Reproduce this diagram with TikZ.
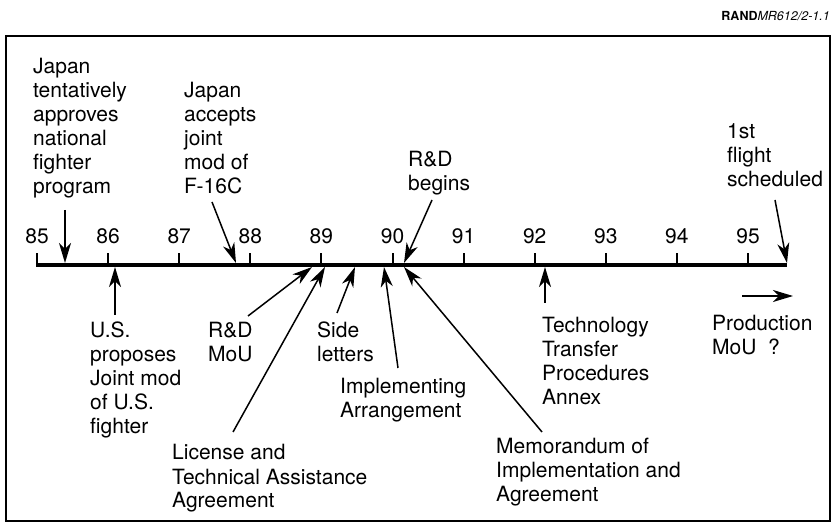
\documentclass[tikz,border=0pt]{standalone}
\usepackage{fontspec}
\setmainfont{TeX Gyre Heros}
\usetikzlibrary{arrows.meta}

\begin{document}
\begin{tikzpicture}[x=1pt,y=1pt,>={Stealth[length=20pt,width=12pt,inset=6pt]},
  evt/.style={->,line width=1.5pt},
  lbl/.style={anchor=base west,align=left,inner sep=0pt,font=\fontsize{21}{24}\selectfont},
  yr/.style={anchor=base,inner sep=0pt,font=\fontsize{21}{24}\selectfont}]
  \useasboundingbox (0,0) rectangle (832,527);
  \draw[line width=2.5pt] (6,6) rectangle (830,491);
  \node[anchor=base east,inner sep=0pt,font=\fontsize{12.5}{14}\selectfont] (fig) at (830,506) {\textbf{RAND}\textit{MR612/2-1.1}};
  % time axis
  \coordinate (a0) at (36,262); \coordinate (a1) at (787,262);
  \draw[line width=4pt] (a0)--(a1);
  \foreach \k in {0,...,10}{
    \pgfmathtruncatemacro{\yy}{85+\k}
    \draw[line width=2pt] (37+71.1*\k,262)--++(0,12);
    \node[yr] (y\yy) at (37+71.1*\k,283) {\yy};
  }
  % events above the axis (nodes placed by their last line)
  \node[lbl] (tent) at (33,333) {Japan\\tentatively\\approves\\national\\fighter\\program};
  \node[lbl] (acc) at (184,333) {Japan\\accepts\\joint\\mod of\\F-16C};
  \node[lbl] (rdb) at (408,336) {R\&D\\begins};
  \node[lbl] (flt) at (727,340) {1st\\flight\\scheduled};
  \coordinate (tent0) at (65,317); \coordinate (tent1) at (65,264);
  \coordinate (acc0) at (212,325); \coordinate (acc1) at (236,264);
  \coordinate (rdb0) at (432,327); \coordinate (rdb1) at (404,264);
  \coordinate (flt0) at (775,327); \coordinate (flt1) at (787,264);
  \draw[evt] (tent0)--(tent1); \draw[evt] (acc0)--(acc1);
  \draw[evt] (rdb0)--(rdb1); \draw[evt] (flt0)--(flt1);
  % events below the axis
  \node[lbl] (usp) at (90,93) {U.S.\\proposes\\Joint mod\\of U.S.\\fighter};
  \node[lbl] (rdm) at (208,165) {R\&D\\MoU};
  \node[lbl] (lic) at (172,19) {License and\\Technical Assistance\\Agreement};
  \node[lbl] (side) at (317,165) {Side\\letters};
  \node[lbl] (impl) at (340,109) {Implementing\\Arrangement};
  \node[lbl] (memo) at (496,25) {Memorandum of\\Implementation and\\Agreement};
  \node[lbl] (tech) at (542,122) {Technology\\Transfer\\Procedures\\Annex};
  \node[lbl] (prod) at (712,172) {Production\\MoU\ \ ?};
  \coordinate (usp0) at (115,212); \coordinate (usp1) at (115,260);
  \coordinate (rdm0) at (248,211); \coordinate (rdm1) at (312,260);
  \coordinate (lic0) at (233,95); \coordinate (lic1) at (325,260);
  \coordinate (side0) at (337,214); \coordinate (side1) at (355,260);
  \coordinate (impl0) at (398,159); \coordinate (impl1) at (384,260);
  \coordinate (memo0) at (542,95); \coordinate (memo1) at (404,260);
  \coordinate (tech0) at (545,224); \coordinate (tech1) at (545,260);
  \coordinate (prod0) at (742,231); \coordinate (prod1) at (793,231);
  \draw[evt] (usp0)--(usp1); \draw[evt] (rdm0)--(rdm1); \draw[evt] (lic0)--(lic1);
  \draw[evt] (side0)--(side1); \draw[evt] (impl0)--(impl1); \draw[evt] (memo0)--(memo1);
  \draw[evt] (tech0)--(tech1); \draw[evt] (prod0)--(prod1);
\end{tikzpicture}
\end{document}
